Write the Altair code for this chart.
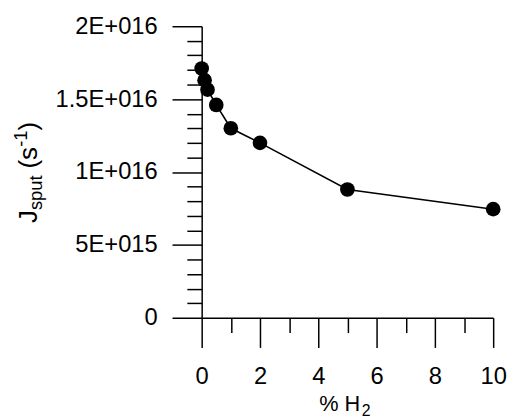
import altair as alt
import pandas as pd

# data
h2_percent = [0, 0.1, 0.2, 0.5, 1, 2, 5, 10]
j_sput = [1.71e16, 1.63e16, 1.565e16, 1.46e16, 1.30e16, 1.20e16, 8.8e15, 7.45e15]

x_tick_values = list(range(0, 11))
y_tick_values = [k * 10**15 for k in range(0, 21)]
y_label_values = [0, 5 * 10**15, 10 * 10**15, 15 * 10**15, 20 * 10**15]
y_label_texts = ["0", "5E+015", "1E+016", "1.5E+016", "2E+016"]

FONT = "Liberation Sans"

df = pd.DataFrame({"h2": h2_percent, "j": j_sput})

y_label_expr = "".join(
    f"abs(datum.value - {v}) < 1e12 ? '{t}' : " for v, t in zip(y_label_values, y_label_texts)
) + "''"

x_enc = alt.X(
    "h2:Q",
    scale=alt.Scale(domain=[0, 10], nice=False, zero=False),
    axis=alt.Axis(
        values=x_tick_values,
        title=None,
        grid=False,
        labelExpr="datum.value % 2 === 0 ? datum.label : ''",
        tickSize={"condition": {"test": "datum.value % 2 === 0", "value": 30}, "value": 15},
        labelPadding=18,
        labelFlush=False,
        labelOverlap=False,
    ),
)
y_enc = alt.Y(
    "j:Q",
    scale=alt.Scale(domain=[0, 2e16], nice=False),
    axis=alt.Axis(
        values=y_tick_values,
        title=None,
        grid=False,
        labelExpr=y_label_expr,
        tickSize={"condition": {"test": "abs(datum.value / 5e15 - round(datum.value / 5e15)) < 1e-6", "value": 30}, "value": 15},
        labelPadding=15,
        labelFlush=False,
        labelOverlap=False,
    ),
)

base = alt.Chart(df).encode(x=x_enc, y=y_enc)
line = base.mark_line(color="black", strokeWidth=1.6)
points = base.mark_circle(color="black", opacity=1, size=220)

one = alt.Data(values=[{}])


def txt(text, x, y, size, angle=0):
    return alt.Chart(one).mark_text(
        text=text, font=FONT, fontSize=size, color="black",
        align="left", baseline="alphabetic", angle=angle,
    ).encode(x=alt.value(x), y=alt.value(y))


MAIN, SUB = 26, 18.5
BX = -167
titles = [
    txt("J", BX, 199, MAIN, 270),
    txt("sput", BX + 5, 186, SUB, 270),
    txt("(s", BX, 144, MAIN, 270),
    txt("-1", BX - 10, 122, SUB, 270),
    txt(")", BX, 105.5, MAIN, 270),
    txt("% H", 119, 389, 22),
    txt("2", 162, 394, 16),
]

chart = alt.layer(line, points, *titles).properties(
    width=295,
    height=295,
    autosize=alt.AutoSizeParams(type="none"),
    padding={"left": 196, "top": 16, "right": 15, "bottom": 100},
).configure_view(stroke=None).configure_axis(
    domainColor="black",
    domainWidth=1.5,
    tickColor="black",
    tickWidth=1.5,
    labelFont=FONT,
    labelFontSize=24,
    labelColor="black",
)

chart.save("out.html", embed_options={"renderer": "svg", "actions": False})
